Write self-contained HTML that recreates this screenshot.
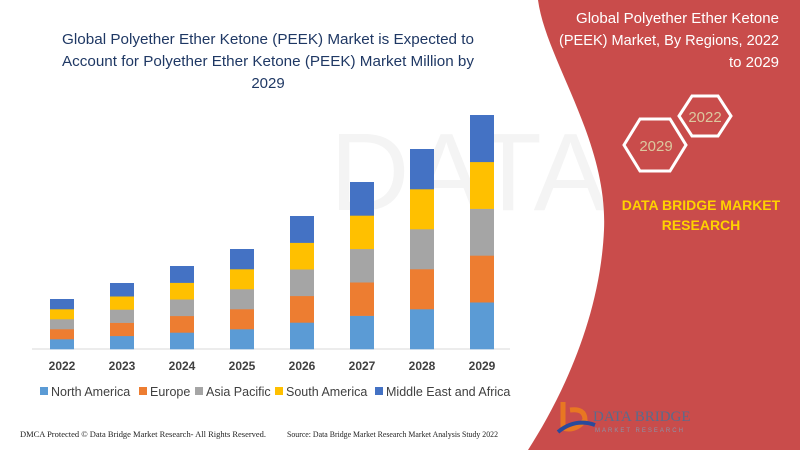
<!DOCTYPE html>
<html><head><style>
body{margin:0;width:800px;height:450px;overflow:hidden;background:#fff;font-family:"Liberation Sans",sans-serif;}
</style></head><body>
<svg width="800" height="450" viewBox="0 0 800 450" xmlns="http://www.w3.org/2000/svg" style="position:absolute;left:0;top:0">
<text x="330" y="210" font-size="110" fill="#f4f4f4" font-family="Liberation Sans">DATABRIDGE</text>
<path d="M538,0 C546,60 608,140 604,230 C600,320 560,400 528,450 L800,450 L800,0 Z" fill="#c94c4b"/>
<g font-family="Liberation Sans" font-size="15" fill="#1f3864" text-anchor="middle">
<text x="268" y="44" textLength="412" lengthAdjust="spacingAndGlyphs">Global Polyether Ether Ketone (PEEK) Market is Expected to</text>
<text x="268" y="66" textLength="412" lengthAdjust="spacingAndGlyphs">Account for Polyether Ether Ketone (PEEK) Market Million by</text>
<text x="268" y="88">2029</text>
</g>
<g font-size="15" fill="#fff" text-anchor="end">
<text x="779" y="23" textLength="203" lengthAdjust="spacingAndGlyphs">Global Polyether Ether Ketone</text>
<text x="779" y="45" textLength="220" lengthAdjust="spacingAndGlyphs">(PEEK) Market, By Regions, 2022</text>
<text x="779" y="67">to 2029</text>
</g>
<polygon points="624,145 640,119 670,119 686,145 670,171 640,171" fill="none" stroke="#fff" stroke-width="3"/>
<polygon points="679,116 692,96 718,96 731,116 718,136 692,136" fill="none" stroke="#fff" stroke-width="3"/>
<text x="656" y="151" font-size="15" fill="#dcc89e" text-anchor="middle">2029</text>
<text x="705" y="122" font-size="15" fill="#dcc89e" text-anchor="middle">2022</text>
<text x="701" y="210" font-size="14" font-weight="bold" fill="#ffd200" text-anchor="middle">DATA BRIDGE MARKET</text>
<text x="701" y="230" font-size="14" font-weight="bold" fill="#ffd200" text-anchor="middle">RESEARCH</text>
<line x1="32" y1="349" x2="510" y2="349" stroke="#d9d9d9"/>
<g id="bars"></g>
<g font-size="12" font-weight="bold" fill="#404040" text-anchor="middle">
<text x="62" y="370">2022</text><text x="122" y="370">2023</text><text x="182" y="370">2024</text><text x="242" y="370">2025</text>
<text x="302" y="370">2026</text><text x="362" y="370">2027</text><text x="422" y="370">2028</text><text x="482" y="370">2029</text>
</g>
<g font-size="12.5" fill="#404040">
<rect x="40" y="387" width="8" height="8" fill="#5b9bd5"/><text x="51" y="396">North America</text>
<rect x="139" y="387" width="8" height="8" fill="#ed7d31"/><text x="150" y="396">Europe</text>
<rect x="195" y="387" width="8" height="8" fill="#a5a5a5"/><text x="206" y="396">Asia Pacific</text>
<rect x="275" y="387" width="8" height="8" fill="#ffc000"/><text x="286" y="396">South America</text>
<rect x="375" y="387" width="8" height="8" fill="#4472c4"/><text x="386" y="396">Middle East and Africa</text>
</g>
<text x="20" y="437" font-size="8.5" fill="#222" font-family="Liberation Serif" textLength="246" lengthAdjust="spacingAndGlyphs">DMCA Protected © Data Bridge Market Research- All Rights Reserved.</text>
<text x="287" y="437" font-size="8.5" fill="#222" font-family="Liberation Serif" textLength="211" lengthAdjust="spacingAndGlyphs">Source: Data Bridge Market Research Market Analysis Study 2022</text>
<path d="M563,402 L563,428 Q575,432 585,420 Q585,408 570,410" fill="none" stroke="#e87722" stroke-width="5"/>
<path d="M558,432 Q575,418 595,425" fill="none" stroke="#2a4a9b" stroke-width="4"/>
<text x="593" y="421" font-size="15" fill="#5a6b8c" font-family="Liberation Serif">DATA BRIDGE</text>
<text x="595" y="432" font-size="6" fill="#8894aa" letter-spacing="2">MARKET RESEARCH</text>
</svg>
<script>
var tops=[299,283,266,249,216,182,149,115],cols=["#5b9bd5","#ed7d31","#a5a5a5","#ffc000","#4472c4"],s="";
for(var i=0;i<8;i++){var x=50+60*i,h=(349-tops[i])/5;for(var j=0;j<5;j++){s+='<rect x="'+x+'" y="'+(349-h*(j+1))+'" width="24" height="'+(h+0.3)+'" fill="'+cols[j]+'"/>';}}
document.getElementById("bars").innerHTML=s;
</script>
</body></html>
